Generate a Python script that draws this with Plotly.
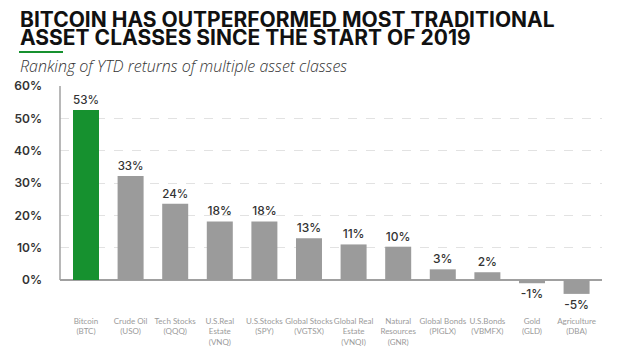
import plotly.graph_objects as go

categories = ["Bitcoin<br>(BTC)", "Crude Oil<br>(USO)", "Tech Stocks<br>(QQQ)",
              "U.S.Real<br>Estate<br>(VNQ)", "U.S.Stocks<br>(SPY)", "Global Stocks<br>(VGTSX)",
              "Global Real<br>Estate<br>(VNQI)", "Natural<br>Resources<br>(GNR)",
              "Global Bonds<br>(PIGLX)", "U.S.Bonds<br>(VBMFX)", "Gold<br>(GLD)",
              "Agriculture<br>(DBA)"]
returns = [52.6, 32.2, 23.6, 18.1, 18.1, 12.9, 11.0, 10.3, 3.3, 2.4, -1.0, -4.3]
value_labels = ["53%", "33%", "24%", "18%", "18%", "13%", "11%", "10%", "3%", "2%", "-1%", "-5%"]
y_ticks = [0, 10, 20, 30, 40, 50, 60]
y_tick_labels = ["0%", "10%", "20%", "30%", "40%", "50%", "60%"]

colors = ["#16912f"] + ["#9b9b9b"] * (len(categories) - 1)

T, L, B, R = 86, 60, 36, 22
PW, PH = 624 - L - R, 351 - T - B
Y_BOTTOM = -(351 - B - 280) / ((280 - T) / 60)


def px_x(p):
    return (p - L) / PW


def px_y(p):
    return 1 + (T - p) / PH


fig = go.Figure()
fig.add_trace(go.Bar(
    x=list(range(len(categories))),
    y=returns,
    marker=dict(color=colors, line=dict(width=0)),
    text=value_labels,
    textposition="outside",
    textfont=dict(family="Inter", size=12, color="#333333", weight=500),
    cliponaxis=False,
    hoverinfo="skip",
))

fig.update_layout(
    width=624, height=351,
    margin=dict(l=L, r=R, t=T, b=B, autoexpand=False),
    paper_bgcolor="white", plot_bgcolor="white",
    bargap=0.417,
    showlegend=False,
    xaxis=dict(
        range=[-0.583, 11.57],
        tickmode="array",
        tickvals=list(range(len(categories))),
        ticktext=categories,
        tickfont=dict(family="Lato", size=8, color="#9a9a9a"),
        showgrid=False, zeroline=False, showline=False,
        ticks="", tickangle=0, automargin=False,
    ),
    yaxis=dict(
        range=[Y_BOTTOM, 60],
        tickmode="array",
        tickvals=y_ticks,
        ticktext=y_tick_labels,
        tickfont=dict(family="Inter", size=12, color="#333333", weight=600),
        showgrid=True, gridcolor="#e2e2e2", griddash="dash", gridwidth=1,
        zeroline=True, zerolinecolor="#a0a0a0", zerolinewidth=1.5,
        showline=False, ticks="", ticklabelstandoff=17, automargin=False,
    ),
    shapes=[
        dict(type="line", xref="paper", yref="y", x0=0, x1=0, y0=0, y1=60,
             line=dict(color="#a0a0a0", width=1.5)),
        dict(type="line", xref="paper", yref="paper", x0=px_x(19), x1=px_x(63),
             y0=px_y(52), y1=px_y(52),
             line=dict(color="#16912f", width=2)),
    ],
    annotations=[
        dict(text="<b>BITCOIN HAS OUTPERFORMED MOST TRADITIONAL</b>",
             xref="paper", yref="paper", x=px_x(18), y=px_y(19),
             xanchor="left", yanchor="middle", align="left", showarrow=False,
             font=dict(family="Inter", size=21, color="#111111")),
        dict(text="<b>ASSET CLASSES SINCE THE START OF 2019</b>",
             xref="paper", yref="paper", x=px_x(18), y=px_y(38),
             xanchor="left", yanchor="middle", align="left", showarrow=False,
             font=dict(family="Inter", size=21, color="#111111")),
        dict(text="<i>Ranking of YTD returns of multiple asset classes</i>",
             xref="paper", yref="paper", x=px_x(18), y=px_y(66),
             xanchor="left", yanchor="middle", align="left", showarrow=False,
             font=dict(family="Open Sans", size=16, color="#333333", weight=300)),
    ],
)

fig.write_html("out.html")
